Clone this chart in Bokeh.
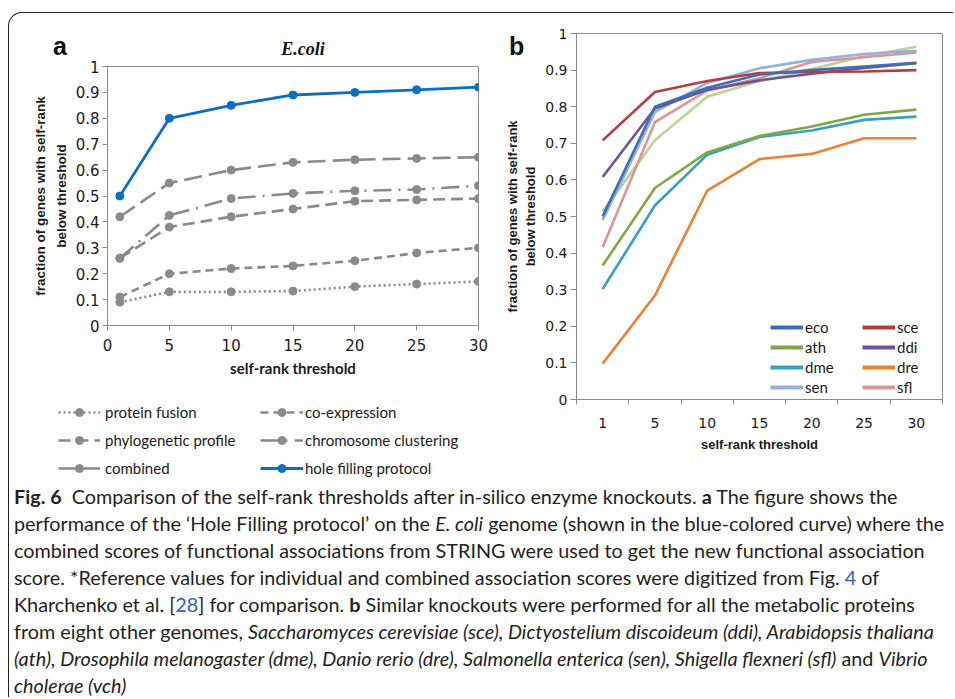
from bokeh.plotting import figure
from bokeh.models import (Range1d, FixedTicker, NumeralTickFormatter, Legend, LegendItem,
                          Div, Spacer)
from bokeh.layouts import row, column
from bokeh.embed import file_html
from bokeh.resources import INLINE

# ---------------- data: panel a (E. coli) ----------------
thresholds_a = [1, 5, 10, 15, 20, 25, 30]
protein_fusion = [0.09, 0.13, 0.13, 0.133, 0.15, 0.16, 0.17]
co_expression = [0.11, 0.20, 0.22, 0.23, 0.25, 0.28, 0.30]
phylogenetic_profile = [0.26, 0.38, 0.42, 0.45, 0.48, 0.485, 0.49]
chromosome_clustering = [0.26, 0.425, 0.49, 0.51, 0.52, 0.525, 0.54]
combined = [0.42, 0.55, 0.60, 0.63, 0.64, 0.645, 0.65]
hole_filling = [0.50, 0.80, 0.85, 0.89, 0.90, 0.91, 0.92]
x_ticks_a = [0, 5, 10, 15, 20, 25, 30]
y_ticks = [0, 0.1, 0.2, 0.3, 0.4, 0.5, 0.6, 0.7, 0.8, 0.9, 1]

# ---------------- data: panel b (other genomes) ----------------
thresholds_b = ["1", "5", "10", "15", "20", "25", "30"]
eco = [0.50, 0.80, 0.852, 0.888, 0.90, 0.91, 0.92]
sce = [0.708, 0.840, 0.870, 0.892, 0.895, 0.896, 0.90]
ath = [0.366, 0.578, 0.675, 0.720, 0.746, 0.778, 0.792]
ddi = [0.608, 0.795, 0.846, 0.872, 0.89, 0.906, 0.919]
dme = [0.302, 0.530, 0.669, 0.717, 0.735, 0.764, 0.773]
dre = [0.098, 0.284, 0.571, 0.657, 0.671, 0.714, 0.714]
sen = [0.49, 0.785, 0.865, 0.905, 0.928, 0.944, 0.953]
sfl = [0.416, 0.758, 0.844, 0.878, 0.922, 0.935, 0.948]
vch = [0.514, 0.708, 0.827, 0.870, 0.903, 0.938, 0.964]

GRAY = "#8a8a8a"
AXIS_GRAY = "#8c8c8c"


def style_axes(p, tick_font, tick_size, lab_font, lab_size, lab_style="bold"):
    p.grid.visible = False
    p.outline_line_color = AXIS_GRAY
    p.outline_line_width = 1
    p.border_fill_color = None
    for ax in (p.xaxis[0], p.yaxis[0]):
        ax.axis_line_color = AXIS_GRAY
        ax.major_tick_line_color = AXIS_GRAY
        ax.minor_tick_line_color = AXIS_GRAY
        ax.major_tick_in = 0
        ax.minor_tick_in = 0
        ax.minor_tick_out = 0
        ax.major_tick_out = 5
        ax.major_label_text_font = tick_font
        ax.major_label_text_font_size = tick_size
        ax.major_label_text_color = "#1a1a1a"
        ax.axis_label_text_font = lab_font
        ax.axis_label_text_font_size = lab_size
        ax.axis_label_text_font_style = lab_style
        ax.axis_label_text_color = "#1a1a1a"


# ================= panel a =================
pa = figure(width=481, height=380, x_range=Range1d(0, 30), y_range=Range1d(0, 1),
            output_backend="svg", toolbar_location=None,
            min_border_left=98, min_border_right=12, min_border_top=53, min_border_bottom=68)
pa.frame_align = False
style_axes(pa, "DejaVu Sans", "15px", "Liberation Sans", "13.5px")
pa.xaxis.ticker = FixedTicker(ticks=x_ticks_a)
pa.yaxis.ticker = FixedTicker(ticks=y_ticks)
pa.yaxis.formatter = NumeralTickFormatter(format="0.[0]")
pa.xaxis.major_label_standoff = 8
pa.yaxis.major_label_standoff = 3
pa.xaxis.axis_label = "self-rank threshold"
pa.xaxis.axis_label_text_font = "Lato"
pa.xaxis.axis_label_text_font_size = "15px"
pa.xaxis.axis_label_standoff = 5
pa.yaxis.axis_label = "fraction of genes with self-rank\nbelow threshold"
pa.yaxis.axis_label_text_line_height = 1.35
pa.yaxis.axis_label_standoff = 4

series_a = [
    ("protein fusion", protein_fusion, GRAY, "2 3"),
    ("co-expression", co_expression, GRAY, "8 5"),
    ("phylogenetic profile", phylogenetic_profile, GRAY, "12 6"),
    ("chromosome clustering", chromosome_clustering, GRAY, "18 7 2 7"),
    ("combined", combined, GRAY, "18 7"),
    ("hole filling protocol", hole_filling, "#0a6fc2", "solid"),
]

# legend strip under panel a (its own small canvas, so nothing is clipped);
# its ranges lie away from the data, so only the legend samples show there
legfig = figure(width=481, height=87, x_range=Range1d(100, 101), y_range=Range1d(100, 101),
                output_backend="svg", toolbar_location=None, x_axis_type=None,
                y_axis_type=None, min_border=0, min_border_left=0, min_border_right=0,
                min_border_top=0, min_border_bottom=0)
legfig.frame_align = False
legfig.grid.visible = False
legfig.outline_line_color = None
legfig.background_fill_color = None
legfig.border_fill_color = None

items_a = {}
for name, vals, col, dash in series_a:
    lw = 2.6 if name != "hole filling protocol" else 2.8
    pa.line(thresholds_a, vals, line_color=col, line_width=lw, line_dash=dash)
    pa.scatter(thresholds_a, vals, marker="circle", size=8, fill_color=col, line_color=col)
    lr = legfig.line(thresholds_a, vals, line_color=col, line_width=lw, line_dash=dash)
    sr = legfig.scatter(thresholds_a, vals, marker="circle", size=8, fill_color=col,
                        line_color=col)
    items_a[name] = LegendItem(label=name, renderers=[lr, sr])

legend_kw = dict(border_line_color=None, background_fill_alpha=0, padding=0, margin=0,
                 label_text_color="#1a1a1a")
leg_a1 = Legend(items=[items_a[n] for n in ("protein fusion", "phylogenetic profile", "combined")],
                location=(49, 2), glyph_width=42, glyph_height=20, label_height=20,
                spacing=8, label_standoff=5, label_text_font="Lato",
                label_text_font_size="15px", **legend_kw)
leg_a2 = Legend(items=[items_a[n] for n in ("co-expression", "chromosome clustering",
                                            "hole filling protocol")],
                location=(251, 2), glyph_width=43, glyph_height=20, label_height=20,
                spacing=8, label_standoff=2, label_text_font="Lato",
                label_text_font_size="15px", **legend_kw)
legfig.add_layout(leg_a1)
legfig.add_layout(leg_a2)

# ================= panel b =================
xb = list(range(1, len(thresholds_b) + 1))
pb = figure(width=463, height=467, x_range=Range1d(0.5, len(thresholds_b) + 0.5),
            y_range=Range1d(0, 1), output_backend="svg", toolbar_location=None,
            min_border_left=86, min_border_right=11, min_border_top=20, min_border_bottom=81)
pb.frame_align = False
pb.extra_y_ranges = {"legend_only": Range1d(100, 101)}
style_axes(pb, "DejaVu Sans", "14px", "Liberation Sans", "13px")
pb.xaxis.ticker = FixedTicker(ticks=xb, minor_ticks=[i + 0.5 for i in range(0, len(xb) + 1)])
pb.xaxis.major_label_overrides = {i + 1: t for i, t in enumerate(thresholds_b)}
pb.xaxis.major_tick_out = 0
pb.xaxis.minor_tick_out = 5
pb.yaxis.ticker = FixedTicker(ticks=y_ticks)
pb.yaxis.formatter = NumeralTickFormatter(format="0.[0]")
pb.yaxis.major_tick_out = 6
pb.xaxis.major_label_standoff = 13
pb.yaxis.major_label_standoff = 3
pb.xaxis.axis_label = "self-rank threshold"
pb.xaxis.axis_label_standoff = 6
pb.yaxis.axis_label = "fraction of genes with self-rank\nbelow threshold"
pb.yaxis.axis_label_text_line_height = 1.2
pb.yaxis.axis_label_standoff = 4

series_b = [
    ("vch", vch, "#bcd393"),
    ("dre", dre, "#ec8231"),
    ("dme", dme, "#35a1bf"),
    ("ath", ath, "#7fa843"),
    ("sfl", sfl, "#da9594"),
    ("sen", sen, "#94b1da"),
    ("ddi", ddi, "#6d5396"),
    ("sce", sce, "#b0403d"),
    ("eco", eco, "#3f6fb3"),
]
items_b = {}
for name, vals, col in series_b:
    pb.line(xb, vals, line_color=col, line_width=2.6)
    # thicker legend sample, drawn on an off-screen range so only the legend shows it
    lr = pb.line(xb, vals, line_color=col, line_width=4, y_range_name="legend_only")
    items_b[name] = LegendItem(label=name, renderers=[lr])

leg_b1 = Legend(items=[items_b[n] for n in ("eco", "ath", "dme", "sen")],
                location=(194, 2), glyph_width=33, glyph_height=20, label_height=20,
                spacing=0, label_standoff=2, label_text_font="Lato",
                label_text_font_size="15px", **legend_kw)
leg_b2 = Legend(items=[items_b[n] for n in ("sce", "ddi", "dre", "sfl")],
                location=(286, 2), glyph_width=33, glyph_height=20, label_height=20,
                spacing=0, label_standoff=2, label_text_font="Lato",
                label_text_font_size="15px", **legend_kw)
pb.add_layout(leg_b1)
pb.add_layout(leg_b2)

# ================= panel letters / title (header laid under the plots) =================
hdr_html = (
    '<div style="position:relative;width:944px;height:60px;">'
    '<span style="position:absolute;left:44px;top:21px;font:bold 25px/1 \'Liberation Sans\';color:#111;">a</span>'
    '<span style="position:absolute;left:244px;top:27px;width:100px;text-align:center;'
    'font:italic bold 18px/1 \'Liberation Serif\';color:#111;">E.coli</span>'
    '<span style="position:absolute;left:500px;top:21px;font:bold 25px/1 \'Liberation Sans\';color:#111;">b</span>'
    '</div>')
hdr = Div(text=hdr_html, width=944, height=60, margin=0)

# ================= caption =================
BL = '<span style="color:#2a62c9">'
caption_lines = [
    '<b>Fig. 6</b>&nbsp; Comparison of the self-rank thresholds after in-silico enzyme knockouts. <b>a</b> The figure shows the',
    'performance of the \u2018Hole Filling protocol\u2019 on the <i>E. coli</i> genome (shown in the blue-colored curve) where the',
    'combined scores of functional associations from STRING were used to get the new functional association',
    'score. *Reference values for individual and combined association scores were digitized from Fig. ' + BL + '4</span> of',
    'Kharchenko et al. [' + BL + '28</span>] for comparison. <b>b</b> Similar knockouts were performed for all the metabolic proteins',
    'from eight other genomes, <i>Saccharomyces cerevisiae (sce), Dictyostelium discoideum (ddi), Arabidopsis thaliana</i>',
    '<i>(ath), Drosophila melanogaster (dme), Danio rerio (dre), Salmonella enterica (sen), Shigella flexneri (sfl)</i> and <i>Vibrio</i>',
    '<i>cholerae (vch)</i>',
]
cap_html = ('<div style="font-family:Lato; font-size:19.8px; line-height:27px; color:#231f20; '
            'white-space:nowrap; padding:3px 0 0 5px;">' + '<br>'.join(caption_lines) + '</div>')
cap = Div(text=cap_html, width=944, height=217, margin=0, styles={"overflow": "hidden"})

col_a = column(pa, legfig)
plots = row(col_a, pb, margin=(-60, 0, 0, 0))
inner = column(hdr, plots, cap, width=945, height=685,
               styles={"border-top": "1px solid #222", "border-left": "1px solid #222",
                       "border-top-left-radius": "14px"})
page = column(Spacer(height=12, width=953), row(Spacer(width=8, height=685), inner))

open("out.html", "w").write(file_html(page, INLINE))
